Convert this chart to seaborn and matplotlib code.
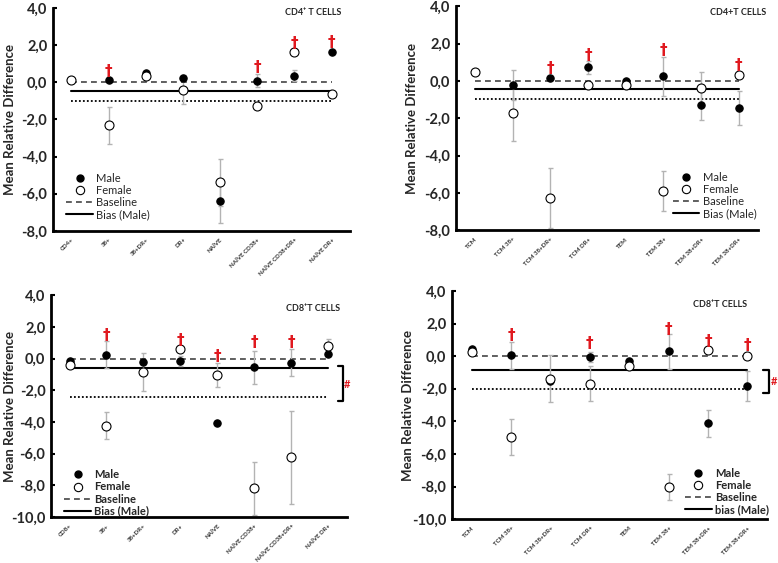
import numpy as np
import pandas as pd
import matplotlib
matplotlib.use("Agg")
import matplotlib.pyplot as plt
from matplotlib.lines import Line2D
import seaborn as sns

nan = np.nan

# ---------------- data ----------------
p1_cats = ["CD4+", "38+", "38+DR+", "DR+", "NAÏVE", "NAÏVE CD38+", "NAÏVE CD38+DR+", "NAÏVE DR+"]
p1_male = [0.1, 0.12, 0.47, 0.2, -6.4, 0.07, 0.36, 1.63]
p1_female = [0.1, -2.33, 0.36, -0.4, -5.39, -1.29, 1.63, -0.63]
p1_male_err = [nan, nan, nan, nan, 1.2, 0.35, 0.3, nan]
p1_female_err = [nan, 1.0, nan, 0.8, 1.25, nan, nan, nan]
p1_dagger = [nan, 0.6, nan, nan, nan, 0.8, 2.1, 2.15]
p1_lines = [0.0, -0.45, -1.0]

p2_cats = ["TCM", "TCM 38+", "TCM 38+DR+", "TCM DR+", "TEM", "TEM 38+", "TEM 38+DR+", "TEM 38+DR+"]
p2_male = [0.45, -0.2, 0.14, 0.73, 0.0, 0.25, -1.27, -1.44]
p2_female = [0.45, -1.71, -6.28, -0.23, -0.21, -5.9, -0.36, 0.29]
p2_male_err = [nan, 0.8, nan, 0.35, nan, 1.05, 0.8, 0.9]
p2_female_err = [nan, 1.5, 1.6, nan, nan, 1.05, 0.85, nan]
p2_dagger = [nan, nan, 0.65, 1.35, nan, 1.65, nan, 0.8]
p2_lines = [0.0, -0.46, -0.98]

p3_cats = ["CD8+", "38+", "38+DR+", "DR+", "NAÏVE", "NAÏVE CD38+", "NAÏVE CD38+DR+", "NAÏVE DR+"]
p3_male = [-0.14, 0.25, -0.22, -0.14, -4.06, -0.56, -0.26, 0.3]
p3_female = [-0.39, -4.23, -0.87, 0.6, -1.06, -8.2, -6.23, 0.79]
p3_male_err = [nan, 0.85, nan, 0.3, nan, 1.05, 0.85, nan]
p3_female_err = [nan, 0.85, 1.2, nan, 0.75, 1.65, 2.95, 0.42]
p3_dagger = [nan, 1.45, nan, 1.12, 0.1, 1.02, 1.0, nan]
p3_lines = [0.0, -0.62, -2.45]
p3_bracket = [-0.5, -2.65]

p4_cats = ["TCM", "TCM 38+", "TCM 38+DR+", "TCM DR+", "TEM", "TEM 38+", "TEM 38+DR+", "TEM 38+DR+"]
p4_male = [0.47, 0.05, -1.53, -0.04, -0.29, 0.29, -4.13, -1.82]
p4_female = [0.27, -4.95, -1.39, -1.68, -0.61, -8.02, 0.41, 0.02]
p4_male_err = [nan, 0.85, nan, 0.3, nan, 1.05, 0.82, 0.9]
p4_female_err = [nan, 1.1, 1.45, 1.05, nan, 0.8, nan, nan]
p4_dagger = [nan, 1.3, nan, 0.78, nan, 1.64, 0.92, 0.63]
p4_lines = [0.0, -0.87, -2.0]
p4_bracket = [-0.86, -2.25]

titles = ["CD4⁺ T CELLS", "CD4+T CELLS", "CD8⁺T CELLS", "CD8⁺T CELLS"]
legend_labels_1 = ["Male", "Female", "Baseline", "Bias (Male)"]
legend_labels_4 = ["Male", "Female", "Baseline", "bias (Male)"]

# ---------------- style ----------------
sns.set_style("white")
FAM = ["Lato", "DejaVu Sans"]
plt.rcParams["font.family"] = FAM

fig = plt.figure(figsize=(7.78, 5.63), dpi=100)

panels = [
    dict(cats=p1_cats, male=p1_male, female=p1_female, me=p1_male_err, fe=p1_female_err,
         dag=p1_dagger, lines=p1_lines, ylim=(-8, 4), rect=[0.068, 0.590, 0.382, 0.396],
         title=titles[0], tpos=(0.875, 0.978), leg=legend_labels_1, lbold=False,
         legloc=("upper left", (0.03, 0.28)), bracket=None, hpos=None, ylx=-0.145),
    dict(cats=p2_cats, male=p2_male, female=p2_female, me=p2_male_err, fe=p2_female_err,
         dag=p2_dagger, lines=p2_lines, ylim=(-8, 4), rect=[0.586, 0.591, 0.388, 0.398],
         title=titles[1], tpos=(0.934, 0.973), leg=legend_labels_1, lbold=False,
         legloc=("upper right", (1.01, 0.28)), bracket=None, hpos=None, ylx=-0.146),
    dict(cats=p3_cats, male=p3_male, female=p3_female, me=p3_male_err, fe=p3_female_err,
         dag=p3_dagger, lines=p3_lines, ylim=(-10, 4), rect=[0.0656, 0.0817, 0.380, 0.394],
         title=titles[2], tpos=(0.885, 0.941), leg=legend_labels_1, lbold=True,
         legloc=("upper left", (0.03, 0.235)), bracket=(p3_bracket, 7.27, 7.40), hpos=(7.52, -1.65),
         ylx=-0.139),
    dict(cats=p4_cats, male=p4_male, female=p4_female, me=p4_male_err, fe=p4_female_err,
         dag=p4_dagger, lines=p4_lines, ylim=(-10, 4), rect=[0.581, 0.078, 0.405, 0.405],
         title=titles[3], tpos=(0.851, 0.939), leg=legend_labels_4, lbold=True,
         legloc=("upper right", (1.02, 0.245)), bracket=(p4_bracket, 7.40, 7.55), hpos=(7.67, -1.58),
         ylx=-0.14),
]

ERRC = "#b3b3b3"

for p in panels:
    ax = fig.add_axes(p["rect"])
    n = len(p["cats"])
    x = np.arange(n)
    df = pd.DataFrame({
        "x": np.concatenate([x, x]),
        "y": np.concatenate([p["female"], p["male"]]),
        "err": np.concatenate([p["fe"], p["me"]]),
        "sex": ["Female"] * n + ["Male"] * n,
    })

    # error bars
    for sex in ["Female", "Male"]:
        d = df[(df["sex"] == sex) & df["err"].notna()]
        ax.errorbar(d["x"], d["y"], yerr=d["err"], fmt="none", ecolor=ERRC,
                    elinewidth=1.0, capsize=1.8, capthick=1.0, zorder=2)

    # reference lines
    ax.plot([x[0], x[-1]], [p["lines"][0]] * 2, color="#444444", lw=1.2,
            ls=(0, (3.5, 2.5)), zorder=1)
    ax.plot([x[0], x[-1]], [p["lines"][1]] * 2, color="black", lw=1.5, zorder=1)
    ax.plot([x[0], x[-1]], [p["lines"][2]] * 2, color="black", lw=1.3,
            ls=(0, (1, 1.2)), zorder=1)

    # points
    sns.scatterplot(data=df[df["sex"] == "Male"], x="x", y="y", ax=ax, color="black",
                    edgecolor="black", s=28, linewidth=0.8, zorder=3, legend=False)
    sns.scatterplot(data=df[df["sex"] == "Female"], x="x", y="y", ax=ax, color="white",
                    edgecolor="black", s=42, linewidth=0.8, zorder=4, legend=False)

    # daggers
    for xi, dv in zip(x, p["dag"]):
        if not np.isnan(dv):
            ax.text(xi, dv, "†", color="#e0191f", fontsize=11, fontweight="bold",
                    ha="center", va="center", zorder=5, family=["DejaVu Sans"])

    # bracket
    if p["bracket"] is not None:
        (b_top, b_bot), x0, x1 = p["bracket"]
        ax.plot([x0, x1, x1, x0], [b_top, b_top, b_bot, b_bot], color="black",
                lw=1.6, clip_on=False, zorder=5)
        ax.text(p["hpos"][0], p["hpos"][1], "#", color="#e0191f", fontsize=8,
                fontweight="bold", ha="center", va="center", clip_on=False)

    ax.set_xlim(-0.5, n - 0.5)
    ax.set_ylim(*p["ylim"])
    ax.set_yticks(np.arange(p["ylim"][0], p["ylim"][1] + 0.1, 2))
    ax.set_yticklabels([f"{v:.1f}".replace(".", ",") for v in ax.get_yticks()],
                       fontsize=10.5, fontweight="bold")
    ax.set_xticks(x)
    ax.set_xticklabels(p["cats"], rotation=45, ha="right", rotation_mode="anchor",
                       fontsize=4.4, fontweight="bold", color="#333333")
    ax.set_xticks(np.arange(0.5, n, 1), minor=True)
    ax.tick_params(axis="x", which="major", length=0, pad=4.5)
    ax.tick_params(axis="x", which="minor", direction="in", length=3, width=1.5, color="black")
    ax.tick_params(axis="y", which="major", direction="in", length=3, width=1.5,
                   color="black", pad=4, left=True)
    ax.set_xlabel("")
    ax.set_ylabel("Mean Relative Difference", fontsize=9.5, fontweight="bold", va="center")
    ax.yaxis.set_label_coords(p["ylx"], 0.5)

    for side in ["top", "right"]:
        ax.spines[side].set_visible(False)
    for side in ["left", "bottom"]:
        ax.spines[side].set_linewidth(2.0)
        ax.spines[side].set_color("black")
    ax.grid(False)

    ax.text(p["tpos"][0], p["tpos"][1], p["title"], transform=ax.transAxes,
            fontsize=6.5, fontweight="bold", ha="center", va="center", family=FAM)

    handles = [
        Line2D([], [], marker="o", ls="none", color="black", markersize=5),
        Line2D([], [], marker="o", ls="none", markerfacecolor="white",
               markeredgecolor="black", markersize=6, markeredgewidth=0.8),
        Line2D([], [], color="#444444", lw=1.2, ls=(0, (3.5, 2.5))),
        Line2D([], [], color="black", lw=1.5),
    ]
    ax.legend(handles, p["leg"], loc=p["legloc"][0], bbox_to_anchor=p["legloc"][1],
              frameon=False, handlelength=2.4, handletextpad=0.3,
              labelspacing=0.1, borderaxespad=0,
              prop={"family": FAM, "weight": "bold" if p["lbold"] else "normal", "size": 8})

fig.savefig("out.png", dpi=100)
